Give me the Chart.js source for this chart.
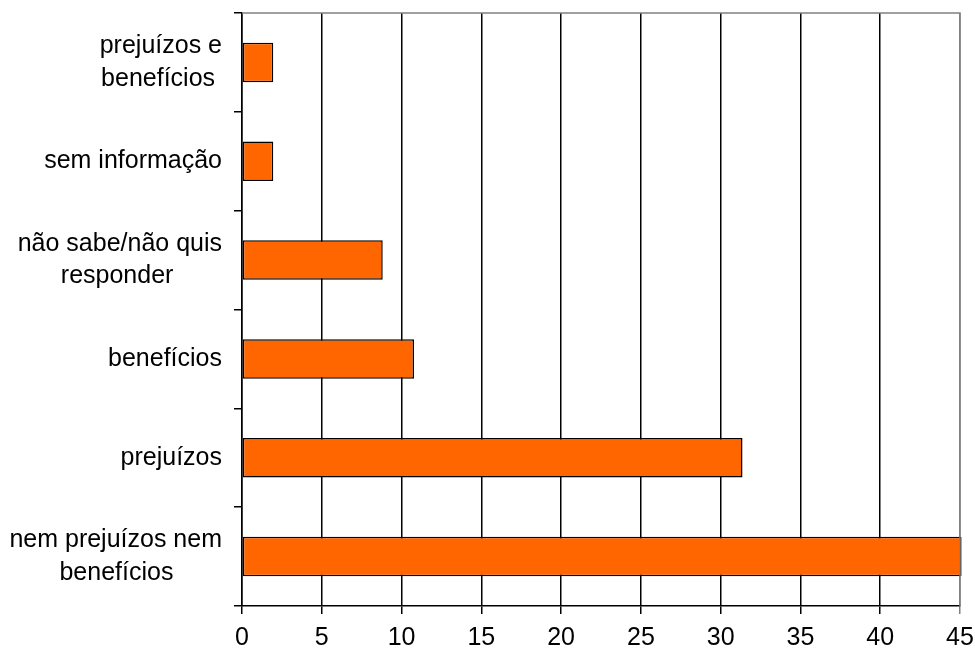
<!DOCTYPE html>
<html>
<head>
<meta charset="utf-8">
<script src="https://cdn.jsdelivr.net/npm/chart.js@4"></script>
<style>
  html, body { margin: 0; padding: 0; background: #fff; }
  #wrap { width: 975px; height: 655px; }
</style>
</head>
<body>
<div id="wrap"><canvas id="chart"></canvas></div>
<script>
// categories, top to bottom
const categories = [
  ["prejuízos e", "benefícios"],
  "sem informação",
  ["não sabe/não quis", "responder"],
  "benefícios",
  "prejuízos",
  ["nem prejuízos nem", "benefícios"],
];
// percentages
const values = [1.96, 1.96, 8.82, 10.78, 31.37, 45.1];
const xTicks = [0, 5, 10, 15, 20, 25, 30, 35, 40, 45];

const FONT = { family: "'Liberation Sans', Arial, sans-serif", size: 25 };

// labels are right aligned by chart.js; pad shorter lines so each
// multi-line label looks centred on itself like the original
function centreLines(label) {
  if (!Array.isArray(label)) return label;
  const c = document.createElement("canvas").getContext("2d");
  c.font = `${FONT.size}px ${FONT.family}`;
  const widest = Math.max(...label.map((l) => c.measureText(l).width));
  const sp = c.measureText(" ").width;
  return label.map((l) => {
    const n = Math.round((widest - c.measureText(l).width) / 2 / sp);
    return l + " ".repeat(n);
  });
}

// grey frame on top and right of the plot area
const frame = {
  id: "frame",
  afterDatasetsDraw(chart) {
    const { ctx, chartArea: a } = chart;
    ctx.save();
    ctx.strokeStyle = "#808080";
    ctx.lineWidth = 1.5;
    ctx.beginPath();
    ctx.moveTo(a.left, a.top);
    ctx.lineTo(a.right, a.top);
    ctx.lineTo(a.right, a.bottom);
    ctx.stroke();
    ctx.restore();
  },
};

new Chart(document.getElementById("chart"), {
  type: "bar",
  data: {
    labels: categories.map(centreLines),
    datasets: [
      {
        data: values,
        backgroundColor: "#FF6600",
        borderColor: "#000",
        borderWidth: 1.5,
        borderSkipped: false,
        barPercentage: 0.4,
        categoryPercentage: 1,
      },
    ],
  },
  options: {
    indexAxis: "y",
    responsive: true,
    maintainAspectRatio: false,
    animation: false,
    clip: false,
    layout: { padding: { top: 13, right: 15, left: 0, bottom: 0 } },
    plugins: { legend: { display: false }, tooltip: { enabled: false } },
    scales: {
      x: {
        min: 0,
        max: 45,
        afterBuildTicks: (s) => {
          s.ticks = xTicks.map((v) => ({ value: v }));
        },
        afterFit: (s) => {
          s.height = 49;
          s.paddingLeft = 0;
          s.paddingRight = 0;
        },
        grid: {
          color: (c) => (c.tick && c.tick.value === 45 ? "#808080" : "#000"),
          lineWidth: 1.5,
          tickLength: 8,
        },
        border: { color: "#000", width: 1.5 },
        ticks: { color: "#000", font: FONT, padding: 9, maxRotation: 0 },
      },
      y: {
        afterFit: (s) => {
          s.width = 242;
          s.paddingTop = 0;
          s.paddingBottom = 0;
        },
        grid: {
          offset: true,
          drawOnChartArea: false,
          color: "#000",
          lineWidth: 1.5,
          tickLength: 8,
        },
        border: { color: "#000", width: 1.5 },
        ticks: { color: "#000", font: { ...FONT, lineHeight: 1.3 }, padding: 12 },
      },
    },
  },
  plugins: [frame],
});
</script>
</body>
</html>
